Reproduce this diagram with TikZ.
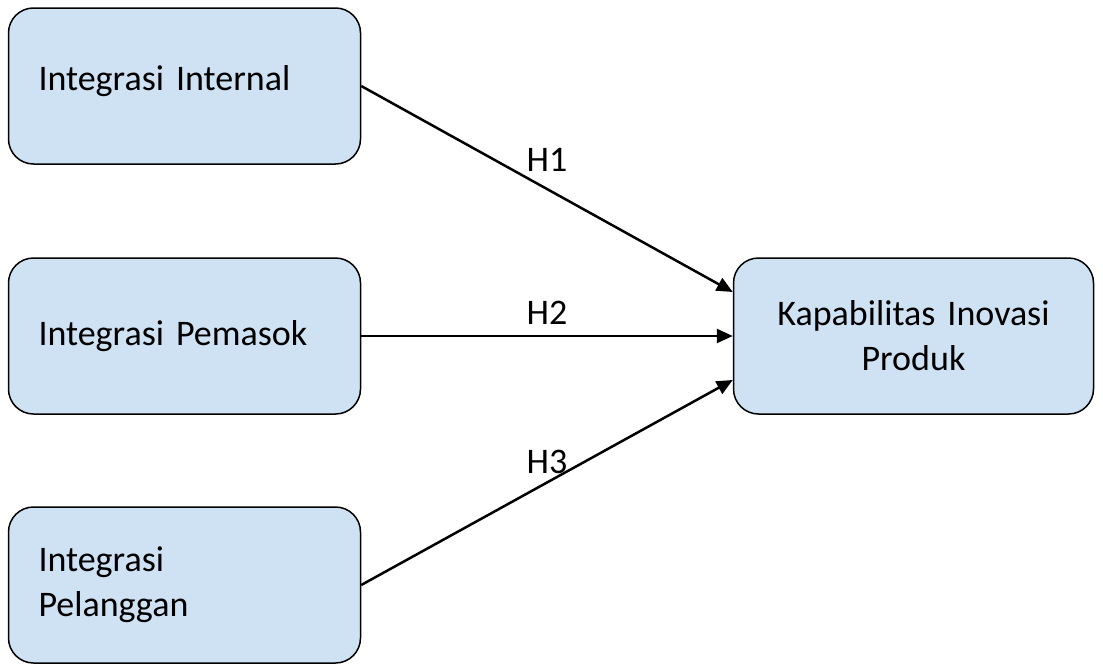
\documentclass[tikz,border=0pt]{standalone}
\usepackage{fontspec}
\setmainfont{Carlito}
\usetikzlibrary{arrows.meta}
\definecolor{boxfill}{RGB}{207,226,243}
\tikzset{
  varbox/.style={draw=black, line width=1.5pt, fill=boxfill, rounded corners=25pt,
    minimum width=352pt, minimum height=156pt, inner xsep=30pt, inner ysep=0pt,
    font=\fontsize{36}{45}\selectfont},
  leftbox/.style={varbox, text width=292pt, align=left},
  rightbox/.style={varbox, text width=300pt, align=center},
  link/.style={line width=2.5pt, -{Triangle[length=16pt,width=14pt]}},
  hlabel/.style={font=\fontsize{36}{45}\selectfont, inner sep=0pt}
}
\begin{document}
\begin{tikzpicture}[x=1pt, y=-1pt]
  \useasboundingbox (0,0) rectangle (1103,664);
  \node[leftbox] (internal) at (184.5,86) {\raisebox{5pt}[\height][\depth]{Integrasi Internal}};
  \node[leftbox] (pemasok) at (184.5,336) {Integrasi Pemasok};
  \node[leftbox] (pelanggan) at (184.5,585) {Integrasi\\Pelanggan};
  \node[rightbox] (kap) at (913.5,336) {Kapabilitas Inovasi\\Produk};

  \coordinate (t1) at ([yshift=44pt]kap.west);
  \coordinate (t3) at ([yshift=-44pt]kap.west);
  \draw[link] (internal.east) -- (t1);
  \draw[link] (pemasok.east) -- (kap.west);
  \draw[link] (pelanggan.east) -- (t3);

  \node[hlabel] (h1) at (547,160) {H1};
  \node[hlabel] (h2) at (547,313) {H2};
  \node[hlabel] (h3) at (547,462) {H3};
\end{tikzpicture}
\end{document}
